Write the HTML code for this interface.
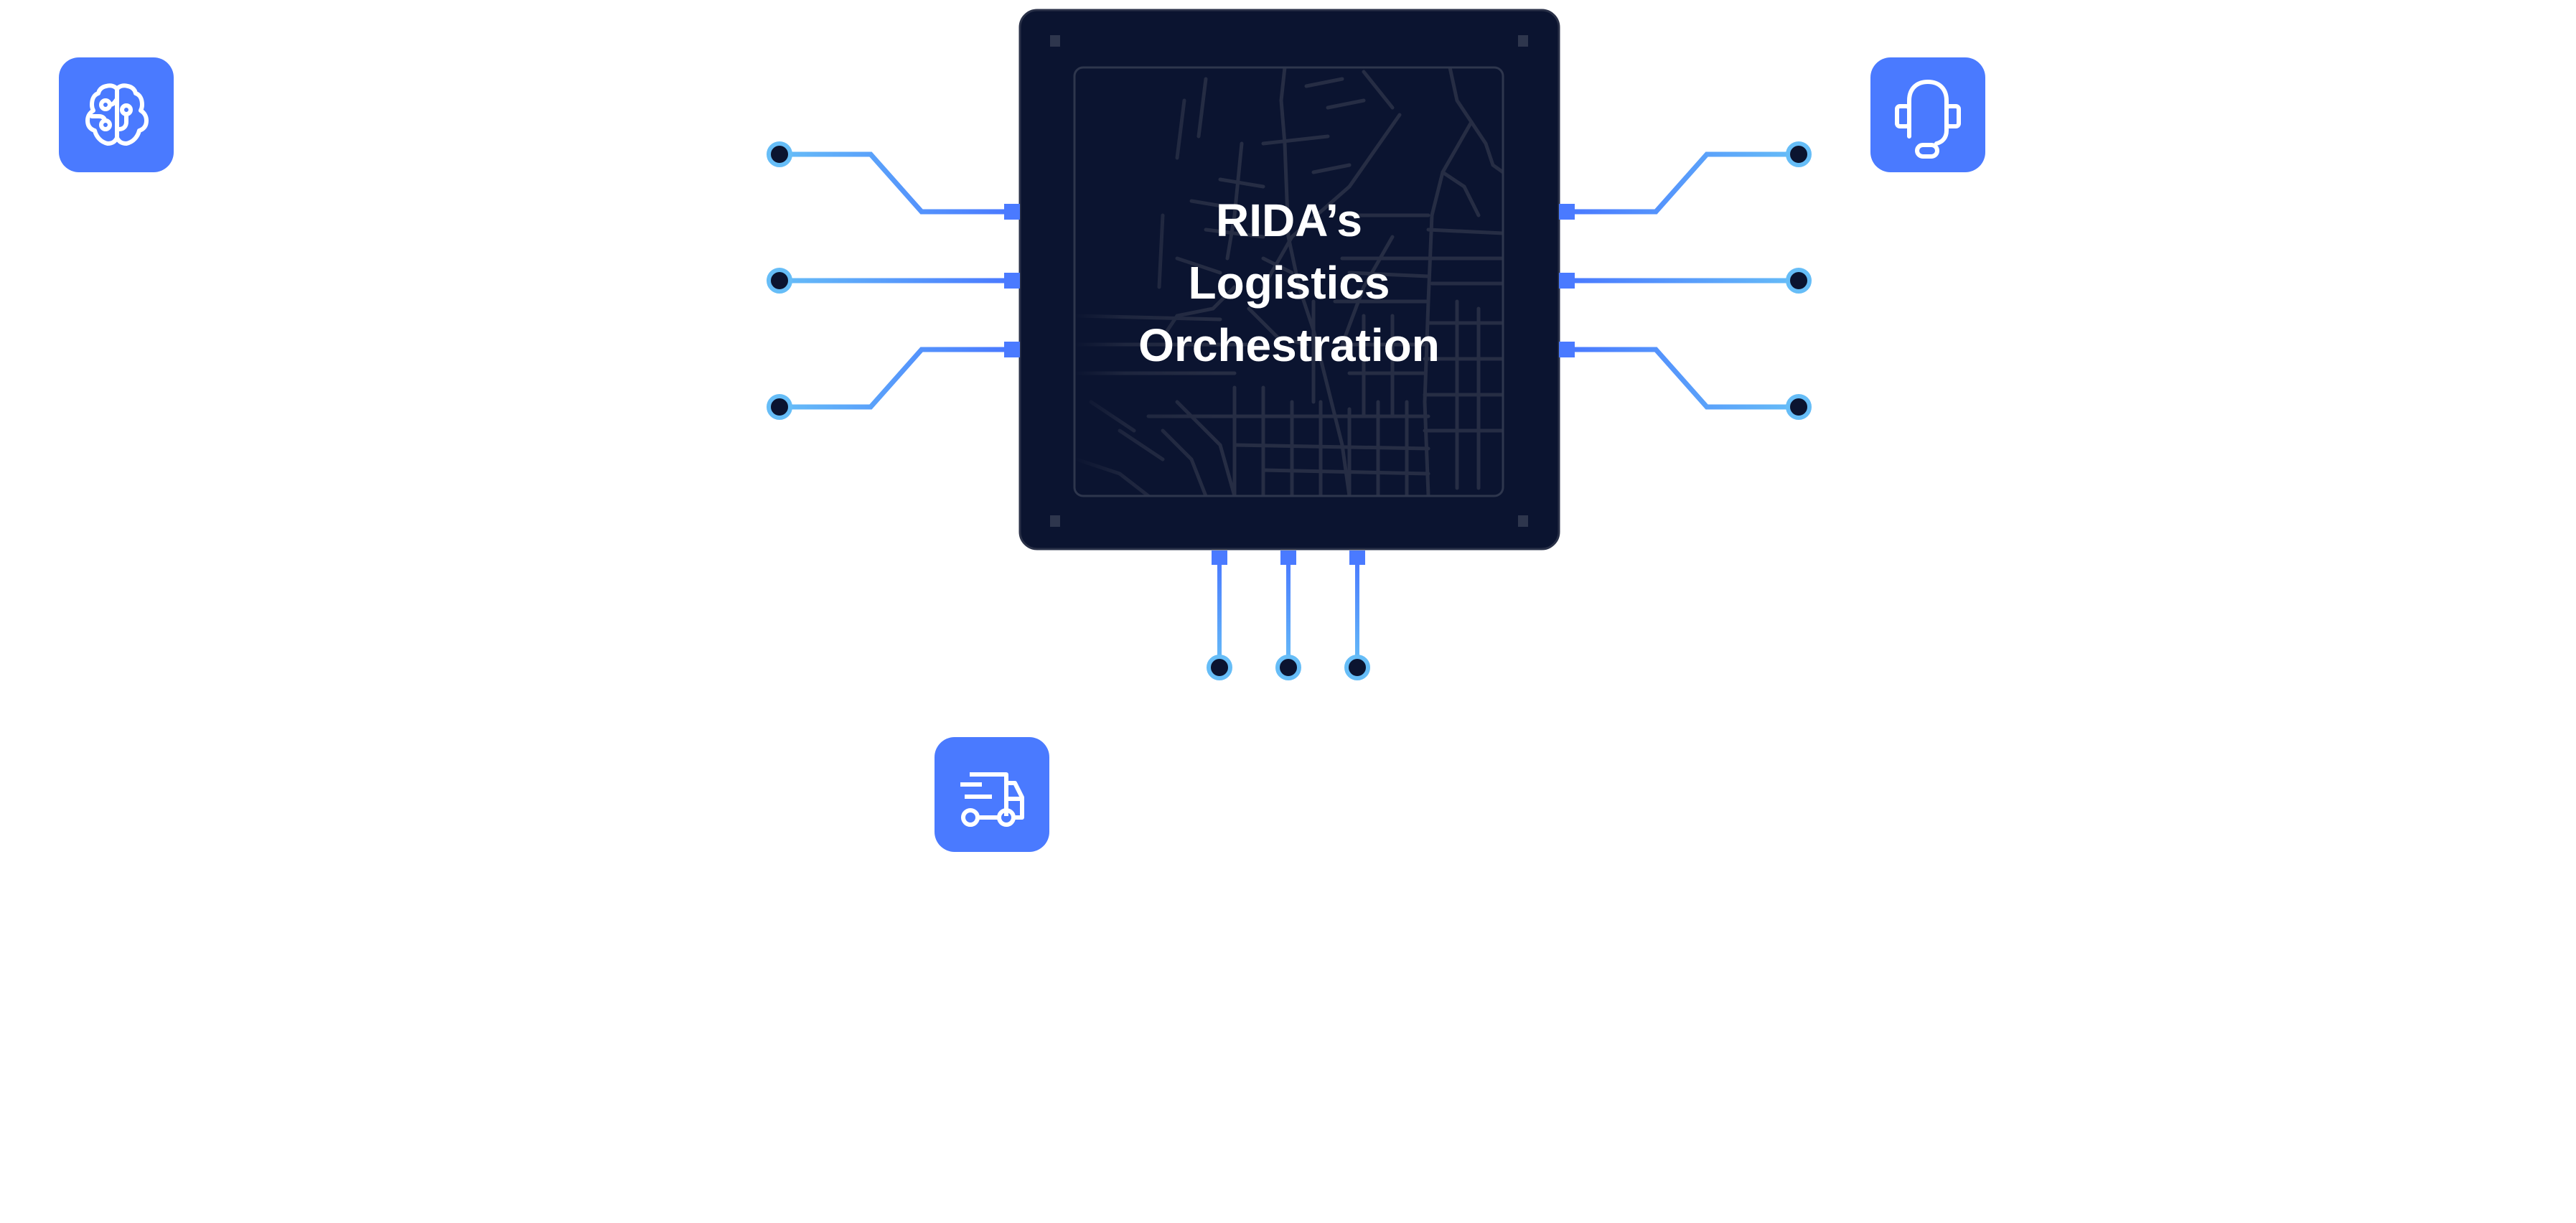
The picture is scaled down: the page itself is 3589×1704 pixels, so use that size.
<!DOCTYPE html>
<html><head><meta charset="utf-8"><style>
html,body{margin:0;padding:0;background:#fff;}
svg{display:block;}
</style></head><body>
<svg width="3589" height="1704" viewBox="0 0 3589 1704" xmlns="http://www.w3.org/2000/svg">
<defs>
<linearGradient id="gl" gradientUnits="userSpaceOnUse" x1="1085" y1="0" x2="1400" y2="0"><stop offset="0" stop-color="#66BDF7"/><stop offset="1" stop-color="#4A7AFF"/></linearGradient>
<linearGradient id="gr" gradientUnits="userSpaceOnUse" x1="2506" y1="0" x2="2192" y2="0"><stop offset="0" stop-color="#66BDF7"/><stop offset="1" stop-color="#4A7AFF"/></linearGradient>
<linearGradient id="gb" gradientUnits="userSpaceOnUse" x1="0" y1="929" x2="0" y2="780"><stop offset="0" stop-color="#66BDF7"/><stop offset="1" stop-color="#4A7AFF"/></linearGradient>
<linearGradient id="fade" x1="0" x2="1" y1="0" y2="0"><stop offset="0" stop-color="#0B1430" stop-opacity="1"/><stop offset="0.35" stop-color="#0B1430" stop-opacity="0.3"/><stop offset="1" stop-color="#0B1430" stop-opacity="0"/></linearGradient>
<clipPath id="mapclip"><rect x="1497" y="94" width="597" height="597" rx="12"/></clipPath>
</defs>

<!-- chip -->
<rect x="1421" y="14" width="751" height="751" rx="24" fill="#0B1430" stroke="#2A3148" stroke-width="3"/>
<rect x="1463" y="49" width="14" height="16" fill="#2E364D"/>
<rect x="2115" y="49" width="14" height="16" fill="#2E364D"/>
<rect x="1463" y="718" width="14" height="16" fill="#2E364D"/>
<rect x="2115" y="718" width="14" height="16" fill="#2E364D"/>

<g clip-path="url(#mapclip)" stroke="#262D44" stroke-width="5" fill="none" stroke-linecap="round">
<path d="M2020 94 L2030 140 L2050 170 L2010 240 L1995 300 L1990 420 L1985 560 L1990 690"/>
<path d="M2050 170 L2070 200 L2080 230 L2094 240"/>
<path d="M1990 320 L2094 325 M1995 360 L2094 360 M1995 395 L2094 395"/>
<path d="M1990 450 L2094 450 M1985 500 L2094 500 M1985 550 L2094 550 M1985 600 L2094 600"/>
<path d="M2030 420 L2030 680 M2060 430 L2060 680 M2010 240 L2040 260 L2060 300"/>
<path d="M1790 94 L1785 140 L1790 200 L1795 330 L1810 400 L1830 460 L1850 540 L1870 620 L1880 691"/>
<path d="M1730 200 L1720 300 L1710 360 M1650 140 L1640 220 M1620 300 L1615 400 M1680 110 L1670 190"/>
<path d="M1500 480 L1760 480 M1500 520 L1720 520 M1600 580 L1990 580 M1500 440 L1700 445"/>
<path d="M1620 600 L1660 640 L1680 691 M1640 560 L1700 620 L1720 691"/>
<path d="M1720 540 L1720 691 M1760 540 L1760 691 M1800 560 L1800 691 M1840 560 L1840 691 M1880 570 L1880 691 M1920 560 L1920 691 M1960 560 L1960 691"/>
<path d="M1720 620 L1990 625 M1760 655 L1990 660"/>
<path d="M1880 300 L1990 300 M1870 360 L1990 360 M1860 420 L1990 420 M1870 480 L1985 480 M1880 520 L1985 520"/>
<path d="M1950 160 L1880 260 L1800 330 L1760 400 M1900 100 L1940 150"/>
<path d="M1700 250 L1760 260 M1680 320 L1760 330 M1760 200 L1850 190 M1830 240 L1880 230 M1820 120 L1870 110 M1850 150 L1900 140"/>
<path d="M1720 400 L1690 430 L1640 440 L1620 470 M1640 360 L1700 380 M1660 280 L1720 290"/>
<path d="M1880 380 L1990 385 M1940 330 L1900 400 L1870 480"/>
<path d="M1500 640 L1560 660 L1600 691 M1520 560 L1580 600 M1560 600 L1620 640"/>
<path d="M1900 440 L1900 580 M1940 440 L1940 580 M1830 420 L1830 560"/>
<path d="M1740 430 L1780 470 L1820 480 M1760 360 L1800 380"/>
</g>
<rect x="1497" y="94" width="200" height="597" fill="url(#fade)"/>
<rect x="1497" y="94" width="597" height="597" rx="12" fill="none" stroke="#2E364D" stroke-width="3"/>

<g font-family="'Liberation Sans',sans-serif" font-weight="bold" font-size="64" fill="#fff" text-anchor="middle">
<text x="1796" y="329">RIDA’s</text>
<text x="1796" y="416">Logistics</text>
<text x="1796" y="503">Orchestration</text>
</g>

<g fill="none" stroke="url(#gl)" stroke-width="7">
<polyline points="1085,215 1213,215 1284,295 1400,295"/>
<polyline points="1085,391 1400,391"/>
<polyline points="1085,567 1213,567 1284,487 1400,487"/>
</g>
<g fill="none" stroke="url(#gr)" stroke-width="7">
<polyline points="2506,215 2378,215 2307,295 2192,295"/>
<polyline points="2506,391 2192,391"/>
<polyline points="2506,567 2378,567 2307,487 2192,487"/>
</g>
<g fill="none" stroke="url(#gb)" stroke-width="6">
<line x1="1699" y1="929" x2="1699" y2="780"/>
<line x1="1795" y1="929" x2="1795" y2="780"/>
<line x1="1891" y1="929" x2="1891" y2="780"/>
</g>
<g fill="#4A7AFF">
<rect x="1399" y="284" width="22" height="22"/><rect x="1399" y="380" width="22" height="22"/><rect x="1399" y="476" width="22" height="22"/>
<rect x="2172" y="284" width="22" height="22"/><rect x="2172" y="380" width="22" height="22"/><rect x="2172" y="476" width="22" height="22"/>
<rect x="1688" y="767" width="22" height="20"/><rect x="1784" y="767" width="22" height="20"/><rect x="1880" y="767" width="22" height="20"/>
</g>
<g fill="#0B1430" stroke="#66BDF7" stroke-width="6">
<circle cx="1086" cy="215" r="15"/><circle cx="1086" cy="391" r="15"/><circle cx="1086" cy="567" r="15"/>
<circle cx="2506" cy="215" r="15"/><circle cx="2506" cy="391" r="15"/><circle cx="2506" cy="567" r="15"/>
<circle cx="1699" cy="930" r="15"/><circle cx="1795" cy="930" r="15"/><circle cx="1891" cy="930" r="15"/>
</g>

<!-- brain icon -->
<g transform="translate(82,80)">
<rect width="160" height="160" rx="28" fill="#4A7AFF"/>
<g fill="none" stroke="#fff" stroke-width="6" stroke-linecap="round" stroke-linejoin="round">
<g id="half">
<path d="M81 44 C78 40 72 38 66 40 C60 41 56 45 55 50 C49 52 46 58 46 66 C46 70 47 72 48 74 C43 77 40 82 40 88 C40 96 44 100 50 102 C52 110 58 118 68 120 C74 120 78 118 81 112 Z"/>
</g>
<path d="M81 44 C84 40 90 38 96 40 C102 41 106 45 107 50 C113 52 116 58 116 66 C116 70 115 72 114 74 C119 77 122 82 122 88 C122 96 118 100 112 102 C110 110 104 118 94 120 C88 120 84 118 81 112 Z"/>
<circle cx="65" cy="66" r="6"/><circle cx="65" cy="94" r="6"/><circle cx="94" cy="73" r="6"/>
<path d="M71 66 C76 66 78 62 81 58"/>
<path d="M46 82 H56 C61 82 64 85 64 88"/>
<path d="M94 79 V90 C94 96 90 100 84 100 H81"/>
</g>
</g>

<!-- headset icon -->
<g transform="translate(2606,80)">
<rect width="160" height="160" rx="28" fill="#4A7AFF"/>
<g fill="none" stroke="#fff" stroke-width="6" stroke-linecap="round" stroke-linejoin="round">
<path d="M54 110 V60 C54 44 64 34 80 34 C96 34 106 44 106 60 V102 C106 112 100 118 92 120"/>
<rect x="37" y="68" width="17" height="28" rx="4"/>
<rect x="106" y="68" width="17" height="28" rx="4"/>
<rect x="65" y="122" width="28" height="16" rx="8"/>
</g>
</g>

<!-- truck icon -->
<g transform="translate(1302,1027)">
<rect width="160" height="160" rx="28" fill="#4A7AFF"/>
<g fill="none" stroke="#fff" stroke-width="6" stroke-linejoin="round">
<path d="M49 52 H100 V110 M100 64 H112 L122 84 V112 H112"/>
<path d="M100 86 H122"/>
<path d="M36 66 H66 M42 83 H80"/>
<path d="M88 112 H60"/>
<circle cx="50" cy="112" r="10"/><circle cx="100" cy="112" r="10"/>
</g>
</g>
</svg>
</body></html>
